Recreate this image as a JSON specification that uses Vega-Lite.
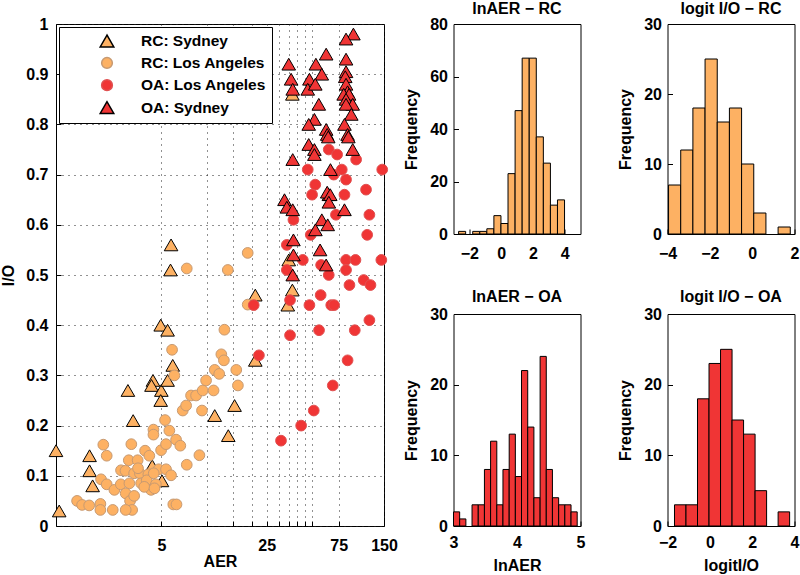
{
  "$schema": "https://vega.github.io/schema/vega-lite/v6.json",
  "padding": {"left": 0, "top": 0, "right": 0, "bottom": 0},
  "background": "white",
  "config": {
    "font": "Liberation Sans",
    "view": {"stroke": "black", "strokeWidth": 1},
    "axis": {
      "labelFont": "Liberation Sans", "labelFontSize": 16, "labelFontWeight": "bold", "labelColor": "black",
      "titleFont": "Liberation Sans", "titleFontSize": 16, "titleFontWeight": "bold", "titleColor": "black",
      "domain": false, "tickColor": "black", "tickSize": -5, "grid": false, "format": "d"
    },
    "title": {"font": "Liberation Sans", "fontSize": 16, "fontWeight": "bold", "color": "black", "baseline": "alphabetic"}
  },
  "datasets": {
    "pts": [
      {"g": "RC: Sydney", "AER": 1.0, "IO": 0.15}, {"g": "RC: Sydney", "AER": 1.05, "IO": 0.03}, {"g": "RC: Sydney", "AER": 1.67, "IO": 0.14}, {"g": "RC: Sydney", "AER": 1.67, "IO": 0.11}, {"g": "RC: Sydney", "AER": 1.75, "IO": 0.08}, {"g": "RC: Sydney", "AER": 3.0, "IO": 0.27}, {"g": "RC: Sydney", "AER": 3.25, "IO": 0.21}, {"g": "RC: Sydney", "AER": 4.4, "IO": 0.29}, {"g": "RC: Sydney", "AER": 4.3, "IO": 0.28}, {"g": "RC: Sydney", "AER": 4.95, "IO": 0.40}, {"g": "RC: Sydney", "AER": 5.5, "IO": 0.39}, {"g": "RC: Sydney", "AER": 5.0, "IO": 0.27}, {"g": "RC: Sydney", "AER": 4.95, "IO": 0.25}, {"g": "RC: Sydney", "AER": 5.5, "IO": 0.29}, {"g": "RC: Sydney", "AER": 5.95, "IO": 0.32}, {"g": "RC: Sydney", "AER": 4.35, "IO": 0.12}, {"g": "RC: Sydney", "AER": 5.05, "IO": 0.09}, {"g": "RC: Sydney", "AER": 5.8, "IO": 0.56}, {"g": "RC: Sydney", "AER": 5.75, "IO": 0.51}, {"g": "RC: Sydney", "AER": 11.3, "IO": 0.22}, {"g": "RC: Sydney", "AER": 13.9, "IO": 0.18}, {"g": "RC: Sydney", "AER": 15.3, "IO": 0.24}, {"g": "RC: Sydney", "AER": 21, "IO": 0.46}, {"g": "RC: Sydney", "AER": 21, "IO": 0.33}, {"g": "RC: Sydney", "AER": 34.5, "IO": 0.44}, {"g": "RC: Sydney", "AER": 37, "IO": 0.47}, {"g": "RC: Sydney", "AER": 35, "IO": 0.53}, {"g": "RC: Sydney", "AER": 37, "IO": 0.86},
      {"g": "RC: Los Angeles", "AER": 1.38, "IO": 0.05}, {"g": "RC: Los Angeles", "AER": 1.49, "IO": 0.042}, {"g": "RC: Los Angeles", "AER": 1.66, "IO": 0.041}, {"g": "RC: Los Angeles", "AER": 1.97, "IO": 0.044}, {"g": "RC: Los Angeles", "AER": 1.97, "IO": 0.032}, {"g": "RC: Los Angeles", "AER": 2.38, "IO": 0.032}, {"g": "RC: Los Angeles", "AER": 1.99, "IO": 0.093}, {"g": "RC: Los Angeles", "AER": 2.06, "IO": 0.162}, {"g": "RC: Los Angeles", "AER": 2.17, "IO": 0.14}, {"g": "RC: Los Angeles", "AER": 2.17, "IO": 0.083}, {"g": "RC: Los Angeles", "AER": 2.44, "IO": 0.072}, {"g": "RC: Los Angeles", "AER": 2.69, "IO": 0.083}, {"g": "RC: Los Angeles", "AER": 2.7, "IO": 0.111}, {"g": "RC: Los Angeles", "AER": 2.89, "IO": 0.11}, {"g": "RC: Los Angeles", "AER": 3.04, "IO": 0.131}, {"g": "RC: Los Angeles", "AER": 3.16, "IO": 0.163}, {"g": "RC: Los Angeles", "AER": 3.07, "IO": 0.085}, {"g": "RC: Los Angeles", "AER": 2.9, "IO": 0.065}, {"g": "RC: Los Angeles", "AER": 3.1, "IO": 0.05}, {"g": "RC: Los Angeles", "AER": 3.2, "IO": 0.032}, {"g": "RC: Los Angeles", "AER": 2.9, "IO": 0.032}, {"g": "RC: Los Angeles", "AER": 3.3, "IO": 0.105}, {"g": "RC: Los Angeles", "AER": 3.48, "IO": 0.131}, {"g": "RC: Los Angeles", "AER": 3.6, "IO": 0.105}, {"g": "RC: Los Angeles", "AER": 3.67, "IO": 0.085}, {"g": "RC: Los Angeles", "AER": 3.9, "IO": 0.15}, {"g": "RC: Los Angeles", "AER": 4.16, "IO": 0.14}, {"g": "RC: Los Angeles", "AER": 4.1, "IO": 0.103}, {"g": "RC: Los Angeles", "AER": 4.0, "IO": 0.091}, {"g": "RC: Los Angeles", "AER": 4.27, "IO": 0.072}, {"g": "RC: Los Angeles", "AER": 4.43, "IO": 0.192}, {"g": "RC: Los Angeles", "AER": 4.43, "IO": 0.182}, {"g": "RC: Los Angeles", "AER": 4.6, "IO": 0.083}, {"g": "RC: Los Angeles", "AER": 4.8, "IO": 0.113}, {"g": "RC: Los Angeles", "AER": 4.98, "IO": 0.151}, {"g": "RC: Los Angeles", "AER": 5.29, "IO": 0.211}, {"g": "RC: Los Angeles", "AER": 5.37, "IO": 0.163}, {"g": "RC: Los Angeles", "AER": 5.65, "IO": 0.19}, {"g": "RC: Los Angeles", "AER": 5.37, "IO": 0.113}, {"g": "RC: Los Angeles", "AER": 5.8, "IO": 0.101}, {"g": "RC: Los Angeles", "AER": 5.89, "IO": 0.351}, {"g": "RC: Los Angeles", "AER": 6.1, "IO": 0.30}, {"g": "RC: Los Angeles", "AER": 6.0, "IO": 0.043}, {"g": "RC: Los Angeles", "AER": 6.3, "IO": 0.043}, {"g": "RC: Los Angeles", "AER": 6.26, "IO": 0.172}, {"g": "RC: Los Angeles", "AER": 6.68, "IO": 0.16}, {"g": "RC: Los Angeles", "AER": 7.37, "IO": 0.122}, {"g": "RC: Los Angeles", "AER": 6.93, "IO": 0.23}, {"g": "RC: Los Angeles", "AER": 7.3, "IO": 0.24}, {"g": "RC: Los Angeles", "AER": 7.87, "IO": 0.26}, {"g": "RC: Los Angeles", "AER": 8.5, "IO": 0.26}, {"g": "RC: Los Angeles", "AER": 8.94, "IO": 0.141}, {"g": "RC: Los Angeles", "AER": 9.3, "IO": 0.23}, {"g": "RC: Los Angeles", "AER": 9.4, "IO": 0.27}, {"g": "RC: Los Angeles", "AER": 9.9, "IO": 0.29}, {"g": "RC: Los Angeles", "AER": 11.1, "IO": 0.27}, {"g": "RC: Los Angeles", "AER": 11.3, "IO": 0.311}, {"g": "RC: Los Angeles", "AER": 12.1, "IO": 0.303}, {"g": "RC: Los Angeles", "AER": 12.5, "IO": 0.342}, {"g": "RC: Los Angeles", "AER": 13.0, "IO": 0.33}, {"g": "RC: Los Angeles", "AER": 13.1, "IO": 0.391}, {"g": "RC: Los Angeles", "AER": 15.7, "IO": 0.311}, {"g": "RC: Los Angeles", "AER": 16.1, "IO": 0.28}, {"g": "RC: Los Angeles", "AER": 18.7, "IO": 0.441}, {"g": "RC: Los Angeles", "AER": 7.37, "IO": 0.513}, {"g": "RC: Los Angeles", "AER": 13.8, "IO": 0.51}, {"g": "RC: Los Angeles", "AER": 18.7, "IO": 0.544}, {"g": "RC: Los Angeles", "AER": 3.5, "IO": 0.115}, {"g": "RC: Los Angeles", "AER": 4.45, "IO": 0.105}, {"g": "RC: Los Angeles", "AER": 3.85, "IO": 0.078}, {"g": "RC: Los Angeles", "AER": 4.5, "IO": 0.075}, {"g": "RC: Los Angeles", "AER": 3.3, "IO": 0.06},
      {"g": "OA: Los Angeles", "AER": 20.5, "IO": 0.44}, {"g": "OA: Los Angeles", "AER": 22.2, "IO": 0.34}, {"g": "OA: Los Angeles", "AER": 35.7, "IO": 0.45}, {"g": "OA: Los Angeles", "AER": 35.7, "IO": 0.38}, {"g": "OA: Los Angeles", "AER": 48, "IO": 0.44}, {"g": "OA: Los Angeles", "AER": 57, "IO": 0.46}, {"g": "OA: Los Angeles", "AER": 55.6, "IO": 0.39}, {"g": "OA: Los Angeles", "AER": 67, "IO": 0.44}, {"g": "OA: Los Angeles", "AER": 70, "IO": 0.44}, {"g": "OA: Los Angeles", "AER": 86, "IO": 0.33}, {"g": "OA: Los Angeles", "AER": 88.5, "IO": 0.48}, {"g": "OA: Los Angeles", "AER": 96, "IO": 0.39}, {"g": "OA: Los Angeles", "AER": 110, "IO": 0.49}, {"g": "OA: Los Angeles", "AER": 120, "IO": 0.41}, {"g": "OA: Los Angeles", "AER": 122, "IO": 0.48}, {"g": "OA: Los Angeles", "AER": 68.6, "IO": 0.28}, {"g": "OA: Los Angeles", "AER": 51.3, "IO": 0.23}, {"g": "OA: Los Angeles", "AER": 42.3, "IO": 0.20}, {"g": "OA: Los Angeles", "AER": 31.1, "IO": 0.17}, {"g": "OA: Los Angeles", "AER": 64.5, "IO": 0.75}, {"g": "OA: Los Angeles", "AER": 73.3, "IO": 0.74}, {"g": "OA: Los Angeles", "AER": 98, "IO": 0.73}, {"g": "OA: Los Angeles", "AER": 46.8, "IO": 0.71}, {"g": "OA: Los Angeles", "AER": 78.7, "IO": 0.71}, {"g": "OA: Los Angeles", "AER": 146, "IO": 0.71}, {"g": "OA: Los Angeles", "AER": 69.6, "IO": 0.70}, {"g": "OA: Los Angeles", "AER": 84, "IO": 0.69}, {"g": "OA: Los Angeles", "AER": 52.5, "IO": 0.68}, {"g": "OA: Los Angeles", "AER": 114, "IO": 0.67}, {"g": "OA: Los Angeles", "AER": 50, "IO": 0.66}, {"g": "OA: Los Angeles", "AER": 82, "IO": 0.66}, {"g": "OA: Los Angeles", "AER": 72, "IO": 0.62}, {"g": "OA: Los Angeles", "AER": 120, "IO": 0.62}, {"g": "OA: Los Angeles", "AER": 37.6, "IO": 0.61}, {"g": "OA: Los Angeles", "AER": 49, "IO": 0.58}, {"g": "OA: Los Angeles", "AER": 116, "IO": 0.58}, {"g": "OA: Los Angeles", "AER": 34, "IO": 0.56}, {"g": "OA: Los Angeles", "AER": 43.4, "IO": 0.53}, {"g": "OA: Los Angeles", "AER": 57.4, "IO": 0.52}, {"g": "OA: Los Angeles", "AER": 84, "IO": 0.53}, {"g": "OA: Los Angeles", "AER": 97, "IO": 0.53}, {"g": "OA: Los Angeles", "AER": 144, "IO": 0.53}, {"g": "OA: Los Angeles", "AER": 34, "IO": 0.51}, {"g": "OA: Los Angeles", "AER": 64.5, "IO": 0.50}, {"g": "OA: Los Angeles", "AER": 84, "IO": 0.51},
      {"g": "OA: Sydney", "AER": 94, "IO": 0.98}, {"g": "OA: Sydney", "AER": 84, "IO": 0.97}, {"g": "OA: Sydney", "AER": 62, "IO": 0.94}, {"g": "OA: Sydney", "AER": 35, "IO": 0.92}, {"g": "OA: Sydney", "AER": 53, "IO": 0.92}, {"g": "OA: Sydney", "AER": 84, "IO": 0.93}, {"g": "OA: Sydney", "AER": 36.3, "IO": 0.89}, {"g": "OA: Sydney", "AER": 48, "IO": 0.89}, {"g": "OA: Sydney", "AER": 58, "IO": 0.90}, {"g": "OA: Sydney", "AER": 84, "IO": 0.905}, {"g": "OA: Sydney", "AER": 83, "IO": 0.895}, {"g": "OA: Sydney", "AER": 46.8, "IO": 0.87}, {"g": "OA: Sydney", "AER": 52.5, "IO": 0.88}, {"g": "OA: Sydney", "AER": 37.2, "IO": 0.87}, {"g": "OA: Sydney", "AER": 84, "IO": 0.88}, {"g": "OA: Sydney", "AER": 86, "IO": 0.865}, {"g": "OA: Sydney", "AER": 81, "IO": 0.86}, {"g": "OA: Sydney", "AER": 88, "IO": 0.86}, {"g": "OA: Sydney", "AER": 84, "IO": 0.85}, {"g": "OA: Sydney", "AER": 93, "IO": 0.84}, {"g": "OA: Sydney", "AER": 55.4, "IO": 0.84}, {"g": "OA: Sydney", "AER": 84, "IO": 0.84}, {"g": "OA: Sydney", "AER": 91, "IO": 0.82}, {"g": "OA: Sydney", "AER": 51.8, "IO": 0.81}, {"g": "OA: Sydney", "AER": 47.5, "IO": 0.80}, {"g": "OA: Sydney", "AER": 82, "IO": 0.80}, {"g": "OA: Sydney", "AER": 62, "IO": 0.79}, {"g": "OA: Sydney", "AER": 63, "IO": 0.78}, {"g": "OA: Sydney", "AER": 64, "IO": 0.775}, {"g": "OA: Sydney", "AER": 86, "IO": 0.78}, {"g": "OA: Sydney", "AER": 87, "IO": 0.775}, {"g": "OA: Sydney", "AER": 47.5, "IO": 0.76}, {"g": "OA: Sydney", "AER": 51.8, "IO": 0.75}, {"g": "OA: Sydney", "AER": 51.8, "IO": 0.74}, {"g": "OA: Sydney", "AER": 93, "IO": 0.75}, {"g": "OA: Sydney", "AER": 37.2, "IO": 0.73}, {"g": "OA: Sydney", "AER": 66.2, "IO": 0.71}, {"g": "OA: Sydney", "AER": 64.6, "IO": 0.66}, {"g": "OA: Sydney", "AER": 63, "IO": 0.665}, {"g": "OA: Sydney", "AER": 66, "IO": 0.66}, {"g": "OA: Sydney", "AER": 64.6, "IO": 0.645}, {"g": "OA: Sydney", "AER": 32.8, "IO": 0.65}, {"g": "OA: Sydney", "AER": 34, "IO": 0.635}, {"g": "OA: Sydney", "AER": 37.2, "IO": 0.63}, {"g": "OA: Sydney", "AER": 82, "IO": 0.63}, {"g": "OA: Sydney", "AER": 58, "IO": 0.61}, {"g": "OA: Sydney", "AER": 63.5, "IO": 0.60}, {"g": "OA: Sydney", "AER": 52.6, "IO": 0.59}, {"g": "OA: Sydney", "AER": 37.6, "IO": 0.57}, {"g": "OA: Sydney", "AER": 56.5, "IO": 0.55}, {"g": "OA: Sydney", "AER": 37.6, "IO": 0.54}, {"g": "OA: Sydney", "AER": 62, "IO": 0.52}, {"g": "OA: Sydney", "AER": 37.2, "IO": 0.50}
    ],
    "h1": [
      {"b0": -2.68, "b1": -2.235, "n": 1}, {"b0": -1.79, "b1": -1.345, "n": 1}, {"b0": -1.345, "b1": -0.9, "n": 1}, {"b0": -0.9, "b1": -0.455, "n": 2}, {"b0": -0.455, "b1": -0.01, "n": 7}, {"b0": -0.01, "b1": 0.435, "n": 4}, {"b0": 0.435, "b1": 0.88, "n": 23}, {"b0": 0.88, "b1": 1.325, "n": 47}, {"b0": 1.325, "b1": 1.77, "n": 67}, {"b0": 1.77, "b1": 2.215, "n": 67}, {"b0": 2.215, "b1": 2.66, "n": 37}, {"b0": 2.66, "b1": 3.105, "n": 27}, {"b0": 3.105, "b1": 3.55, "n": 11}, {"b0": 3.55, "b1": 3.995, "n": 13}
    ],
    "h2": [
      {"b0": -3.95, "b1": -3.375, "n": 7}, {"b0": -3.375, "b1": -2.8, "n": 12}, {"b0": -2.8, "b1": -2.225, "n": 18}, {"b0": -2.225, "b1": -1.65, "n": 25}, {"b0": -1.65, "b1": -1.075, "n": 16}, {"b0": -1.075, "b1": -0.5, "n": 18}, {"b0": -0.5, "b1": 0.075, "n": 10}, {"b0": 0.075, "b1": 0.65, "n": 3}, {"b0": 1.225, "b1": 1.8, "n": 1}
    ],
    "h3": [
      {"b0": 3.0, "b1": 3.097, "n": 2}, {"b0": 3.097, "b1": 3.195, "n": 1}, {"b0": 3.292, "b1": 3.39, "n": 3}, {"b0": 3.39, "b1": 3.487, "n": 3}, {"b0": 3.487, "b1": 3.584, "n": 8}, {"b0": 3.584, "b1": 3.682, "n": 12}, {"b0": 3.682, "b1": 3.779, "n": 3}, {"b0": 3.779, "b1": 3.877, "n": 8}, {"b0": 3.877, "b1": 3.974, "n": 13}, {"b0": 3.974, "b1": 4.071, "n": 7}, {"b0": 4.071, "b1": 4.169, "n": 22}, {"b0": 4.169, "b1": 4.266, "n": 14}, {"b0": 4.266, "b1": 4.364, "n": 4}, {"b0": 4.364, "b1": 4.461, "n": 24}, {"b0": 4.461, "b1": 4.558, "n": 8}, {"b0": 4.558, "b1": 4.656, "n": 4}, {"b0": 4.656, "b1": 4.753, "n": 3}, {"b0": 4.753, "b1": 4.851, "n": 3}, {"b0": 4.851, "b1": 4.948, "n": 2}
    ],
    "h4": [
      {"b0": -1.67, "b1": -1.126, "n": 3}, {"b0": -1.126, "b1": -0.582, "n": 3}, {"b0": -0.582, "b1": -0.038, "n": 18}, {"b0": -0.038, "b1": 0.506, "n": 23}, {"b0": 0.506, "b1": 1.05, "n": 25}, {"b0": 1.05, "b1": 1.594, "n": 15}, {"b0": 1.594, "b1": 2.138, "n": 13}, {"b0": 2.138, "b1": 2.682, "n": 5}, {"b0": 3.226, "b1": 3.77, "n": 2}
    ]
  },
  "bounds": "flush",
  "spacing": 69.5,
  "hconcat": [
    {
      "width": 328, "height": 502,
      "data": {"name": "pts"},
      "mark": {"type": "point", "filled": true, "strokeWidth": 1, "opacity": 1},
      "encoding": {
        "x": {"field": "AER", "type": "quantitative",
          "scale": {"type": "log", "domain": [1, 150], "nice": false},
          "axis": {"values": [5, 10, 15, 20, 25, 30, 35, 40, 45, 50, 75, 150],
            "labelExpr": "datum.value == 5 || datum.value == 25 || datum.value == 75 || datum.value == 150 ? format(datum.value, 'd') : ''",
            "grid": true, "gridDash": [1, 5], "gridColor": "#222", "gridWidth": 1,
            "labelPadding": 16, "labelFlush": false, "title": "AER", "titlePadding": 0}},
        "y": {"field": "IO", "type": "quantitative",
          "scale": {"domain": [0, 1], "nice": false},
          "axis": {"values": [0, 0.1, 0.2, 0.3, 0.4, 0.5, 0.6, 0.7, 0.8, 0.9, 1], "format": ".1~f",
            "grid": true, "gridDash": [1, 5], "gridColor": "#222", "gridWidth": 1,
            "labelPadding": 13, "title": "I/O", "titlePadding": 9}},
        "shape": {"field": "g", "type": "nominal",
          "scale": {"domain": ["RC: Sydney", "RC: Los Angeles", "OA: Los Angeles", "OA: Sydney"], "range": ["triangle-up", "circle", "circle", "triangle-up"]},
          "legend": {"orient": "none", "legendX": 3, "legendY": 3, "title": null, "strokeColor": "black", "fillColor": "white",
            "padding": 6, "labelFont": "Liberation Sans", "labelFontSize": 15.5, "labelFontWeight": "bold", "labelColor": "black",
            "symbolOffset": 34, "labelOffset": 26, "rowPadding": 4.2, "cornerRadius": 0}},
        "fill": {"field": "g", "type": "nominal",
          "scale": {"domain": ["RC: Sydney", "RC: Los Angeles", "OA: Los Angeles", "OA: Sydney"], "range": ["#fdb163", "#fdb163", "#f03535", "#f03535"]},
          "legend": {"orient": "none", "legendX": 3, "legendY": 3, "title": null, "strokeColor": "black", "fillColor": "white",
            "padding": 6, "labelFont": "Liberation Sans", "labelFontSize": 15.5, "labelFontWeight": "bold", "labelColor": "black",
            "symbolOffset": 34, "labelOffset": 26, "rowPadding": 4.2, "cornerRadius": 0}},
        "stroke": {"field": "g", "type": "nominal",
          "scale": {"domain": ["RC: Sydney", "RC: Los Angeles", "OA: Los Angeles", "OA: Sydney"], "range": ["#000000", "#c79a72", "#e05050", "#000000"]},
          "legend": {"orient": "none", "legendX": 3, "legendY": 3, "title": null, "strokeColor": "black", "fillColor": "white",
            "padding": 6, "labelFont": "Liberation Sans", "labelFontSize": 15.5, "labelFontWeight": "bold", "labelColor": "black",
            "symbolOffset": 34, "labelOffset": 26, "rowPadding": 4.2, "cornerRadius": 0}},
        "size": {"field": "g", "type": "nominal",
          "scale": {"type": "ordinal", "domain": ["RC: Sydney", "RC: Los Angeles", "OA: Los Angeles", "OA: Sydney"], "range": [185, 115, 115, 185]},
          "legend": {"orient": "none", "legendX": 3, "legendY": 3, "title": null, "strokeColor": "black", "fillColor": "white",
            "padding": 6, "labelFont": "Liberation Sans", "labelFontSize": 15.5, "labelFontWeight": "bold", "labelColor": "black",
            "symbolOffset": 34, "labelOffset": 26, "rowPadding": 4.2, "cornerRadius": 0}}
      }
    },
    {
      "columns": 2,
      "bounds": "flush",
      "spacing": {"row": 80, "column": 87},
      "concat": [
        {
          "width": 127, "height": 210,
          "title": {"text": "lnAER − RC", "offset": -1},
          "data": {"name": "h1"},
          "mark": {"type": "rect", "fill": "#fdb163", "stroke": "black", "strokeWidth": 1},
          "encoding": {
            "x": {"field": "b0", "type": "quantitative", "scale": {"domain": [-3, 5], "nice": false, "zero": false},
              "axis": {"values": [-2, 0, 2, 4], "title": null, "labelPadding": 16, "labelFlush": false}},
            "x2": {"field": "b1"},
            "y": {"field": "n", "type": "quantitative", "scale": {"domain": [0, 80], "nice": false},
              "axis": {"values": [0, 20, 40, 60, 80], "title": "Frequency", "labelPadding": 11, "titlePadding": 10}},
            "y2": {"datum": 0}
          }
        },
        {
          "width": 127, "height": 210,
          "title": {"text": "logit I/O − RC", "offset": -1},
          "data": {"name": "h2"},
          "mark": {"type": "rect", "fill": "#fdb163", "stroke": "black", "strokeWidth": 1},
          "encoding": {
            "x": {"field": "b0", "type": "quantitative", "scale": {"domain": [-4, 2], "nice": false, "zero": false},
              "axis": {"values": [-4, -2, 0, 2], "title": null, "labelPadding": 16, "labelFlush": false}},
            "x2": {"field": "b1"},
            "y": {"field": "n", "type": "quantitative", "scale": {"domain": [0, 30], "nice": false},
              "axis": {"values": [0, 10, 20, 30], "title": "Frequency", "labelPadding": 11, "titlePadding": 10}},
            "y2": {"datum": 0}
          }
        },
        {
          "width": 127, "height": 212,
          "title": {"text": "lnAER − OA", "offset": 1},
          "data": {"name": "h3"},
          "mark": {"type": "rect", "fill": "#f03535", "stroke": "black", "strokeWidth": 1},
          "encoding": {
            "x": {"field": "b0", "type": "quantitative", "scale": {"domain": [3, 5], "nice": false, "zero": false},
              "axis": {"values": [3, 4, 5], "title": "lnAER", "labelPadding": 13, "titlePadding": 7, "labelFlush": false}},
            "x2": {"field": "b1"},
            "y": {"field": "n", "type": "quantitative", "scale": {"domain": [0, 30], "nice": false},
              "axis": {"values": [0, 10, 20, 30], "title": "Frequency", "labelPadding": 11, "titlePadding": 10}},
            "y2": {"datum": 0}
          }
        },
        {
          "width": 127, "height": 212,
          "title": {"text": "logit I/O − OA", "offset": 1},
          "data": {"name": "h4"},
          "mark": {"type": "rect", "fill": "#f03535", "stroke": "black", "strokeWidth": 1},
          "encoding": {
            "x": {"field": "b0", "type": "quantitative", "scale": {"domain": [-2, 4], "nice": false, "zero": false},
              "axis": {"values": [-2, 0, 2, 4], "title": "logitI/O", "labelPadding": 13, "titlePadding": 7, "labelFlush": false}},
            "x2": {"field": "b1"},
            "y": {"field": "n", "type": "quantitative", "scale": {"domain": [0, 30], "nice": false},
              "axis": {"values": [0, 10, 20, 30], "title": "Frequency", "labelPadding": 11, "titlePadding": 10}},
            "y2": {"datum": 0}
          }
        }
      ]
    }
  ]
}
